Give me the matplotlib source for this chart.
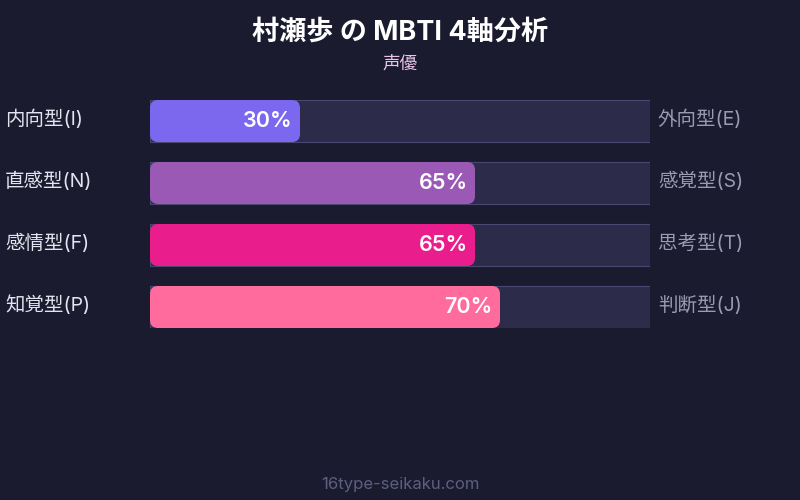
import matplotlib
matplotlib.use('Agg')
import matplotlib.pyplot as plt
from matplotlib.patches import FancyBboxPatch

plt.rcParams['font.family'] = ['Inter', 'Noto Sans CJK JP', 'DejaVu Sans']

# data
title = '村瀬歩 の MBTI 4軸分析'
subtitle = '声優'
left_labels = ['内向型(I)', '直感型(N)', '感情型(F)', '知覚型(P)']
right_labels = ['外向型(E)', '感覚型(S)', '思考型(T)', '判断型(J)']
values = [30, 65, 65, 70]
colors = ['#7b68ee', '#9b59b6', '#e91e8c', '#ff6b9d']

bg = '#1a1b2e'
track = '#2d2b4a'
track_edge = '#4a4870'

W, H = 800, 500
fig = plt.figure(figsize=(8, 5), dpi=100, facecolor=bg)

fig.text(0.5, 1 - 33 / H, title, ha='center', va='center', color='white',
         fontsize=19.5, fontweight='bold')
fig.text(0.5, 1 - 64 / H, subtitle, ha='center', va='center', color='#e8c4e8',
         fontsize=12.7)
fig.text(0.5, 1 - 484 / H, '16type-seikaku.com', ha='center', va='center',
         color='#5e5e7e', fontsize=12)

# bar area: x 150..650 px, y 100..328 px
row_px = 62
bar_px = 42
n = len(values)
pad = (bar_px / row_px) / 2
ax = fig.add_axes([150 / W, 1 - 328 / H, 500 / W, 228 / H])
ax.set_facecolor('none')
ax.set_xlim(0, 100)
ax.set_ylim(n - 1 + pad, -pad)
ax.axis('off')

h = bar_px / row_px
aspect = (1 / row_px) / (100 / 500)

ax.barh(range(n), [100] * n, height=h, color=track, edgecolor=track_edge,
        linewidth=0.8)

for i, (v, c) in enumerate(zip(values, colors)):
    patch = FancyBboxPatch((0, i - h / 2), v, h,
                           boxstyle='round,pad=0,rounding_size=1.6',
                           mutation_aspect=aspect, facecolor=c, edgecolor='none')
    ax.add_patch(patch)
    ax.text(v - 1.5, i, f'{v}%', ha='right', va='center', color='white',
            fontsize=15.5, fontweight='semibold')
    ax.text(-29, i - 0.03, left_labels[i], ha='left', va='center', color='#e4e4f0',
            fontsize=14, clip_on=False)
    ax.text(101.6, i - 0.03, right_labels[i], ha='left', va='center', color='#9a9ab4',
            fontsize=14, clip_on=False)

fig.savefig('out.png', dpi=100, facecolor=bg)
